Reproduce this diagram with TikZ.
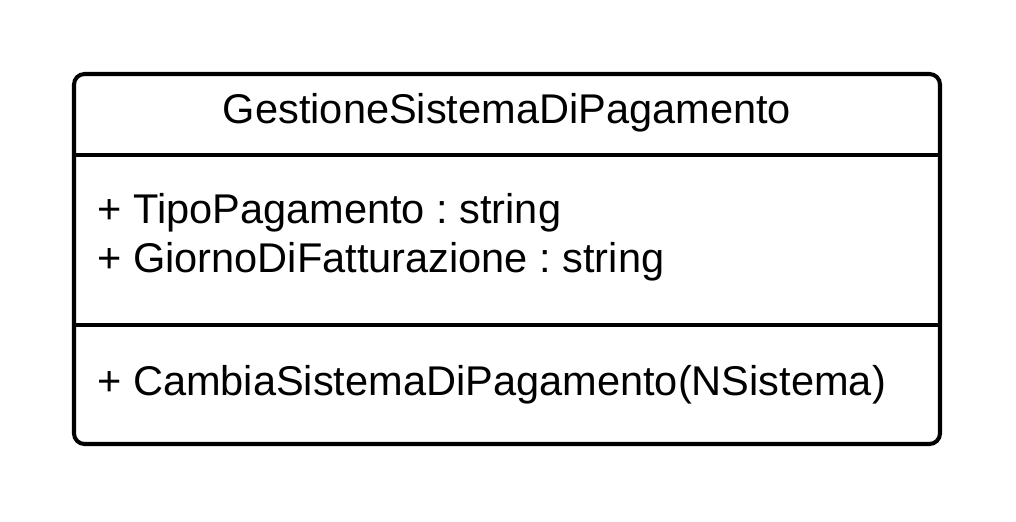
\documentclass[tikz,border=0pt]{standalone}
\usepackage{fontspec}
\setmainfont{Liberation Sans}
\usetikzlibrary{positioning}
\frenchspacing
\tikzset{
    every node/.style={font=\fontsize{23.65}{28}\selectfont, inner sep=0pt},
    classbox/.style={draw=black, line width=2.3pt, rounded corners=6pt},
    classline/.style={draw=black, line width=2.3pt},
    member/.style={anchor=base west},
}
\begin{document}
\begin{tikzpicture}[x=0.02cm, y=-0.02cm]
    \useasboundingbox (0,0) rectangle (1016,521);
    % Box
    \draw[classbox] (74,74) rectangle (940,444);
    \draw[classline] (74,155) -- (940,155);
    \draw[classline] (74,325) -- (940,325);

    % Texts
    \node[anchor=base] (title) at (507,123) {GestioneSistemaDiPagamento};
    \node[member] (tipo) at (97,223) {+ TipoPagamento : string};
    \node[member] (giorno) at (97,272) {+ GiornoDiFatturazione : string};
    \node[member] (cambia) at (97,395) {+ CambiaSistemaDiPagamento(NSistema)};
\end{tikzpicture}
\end{document}
